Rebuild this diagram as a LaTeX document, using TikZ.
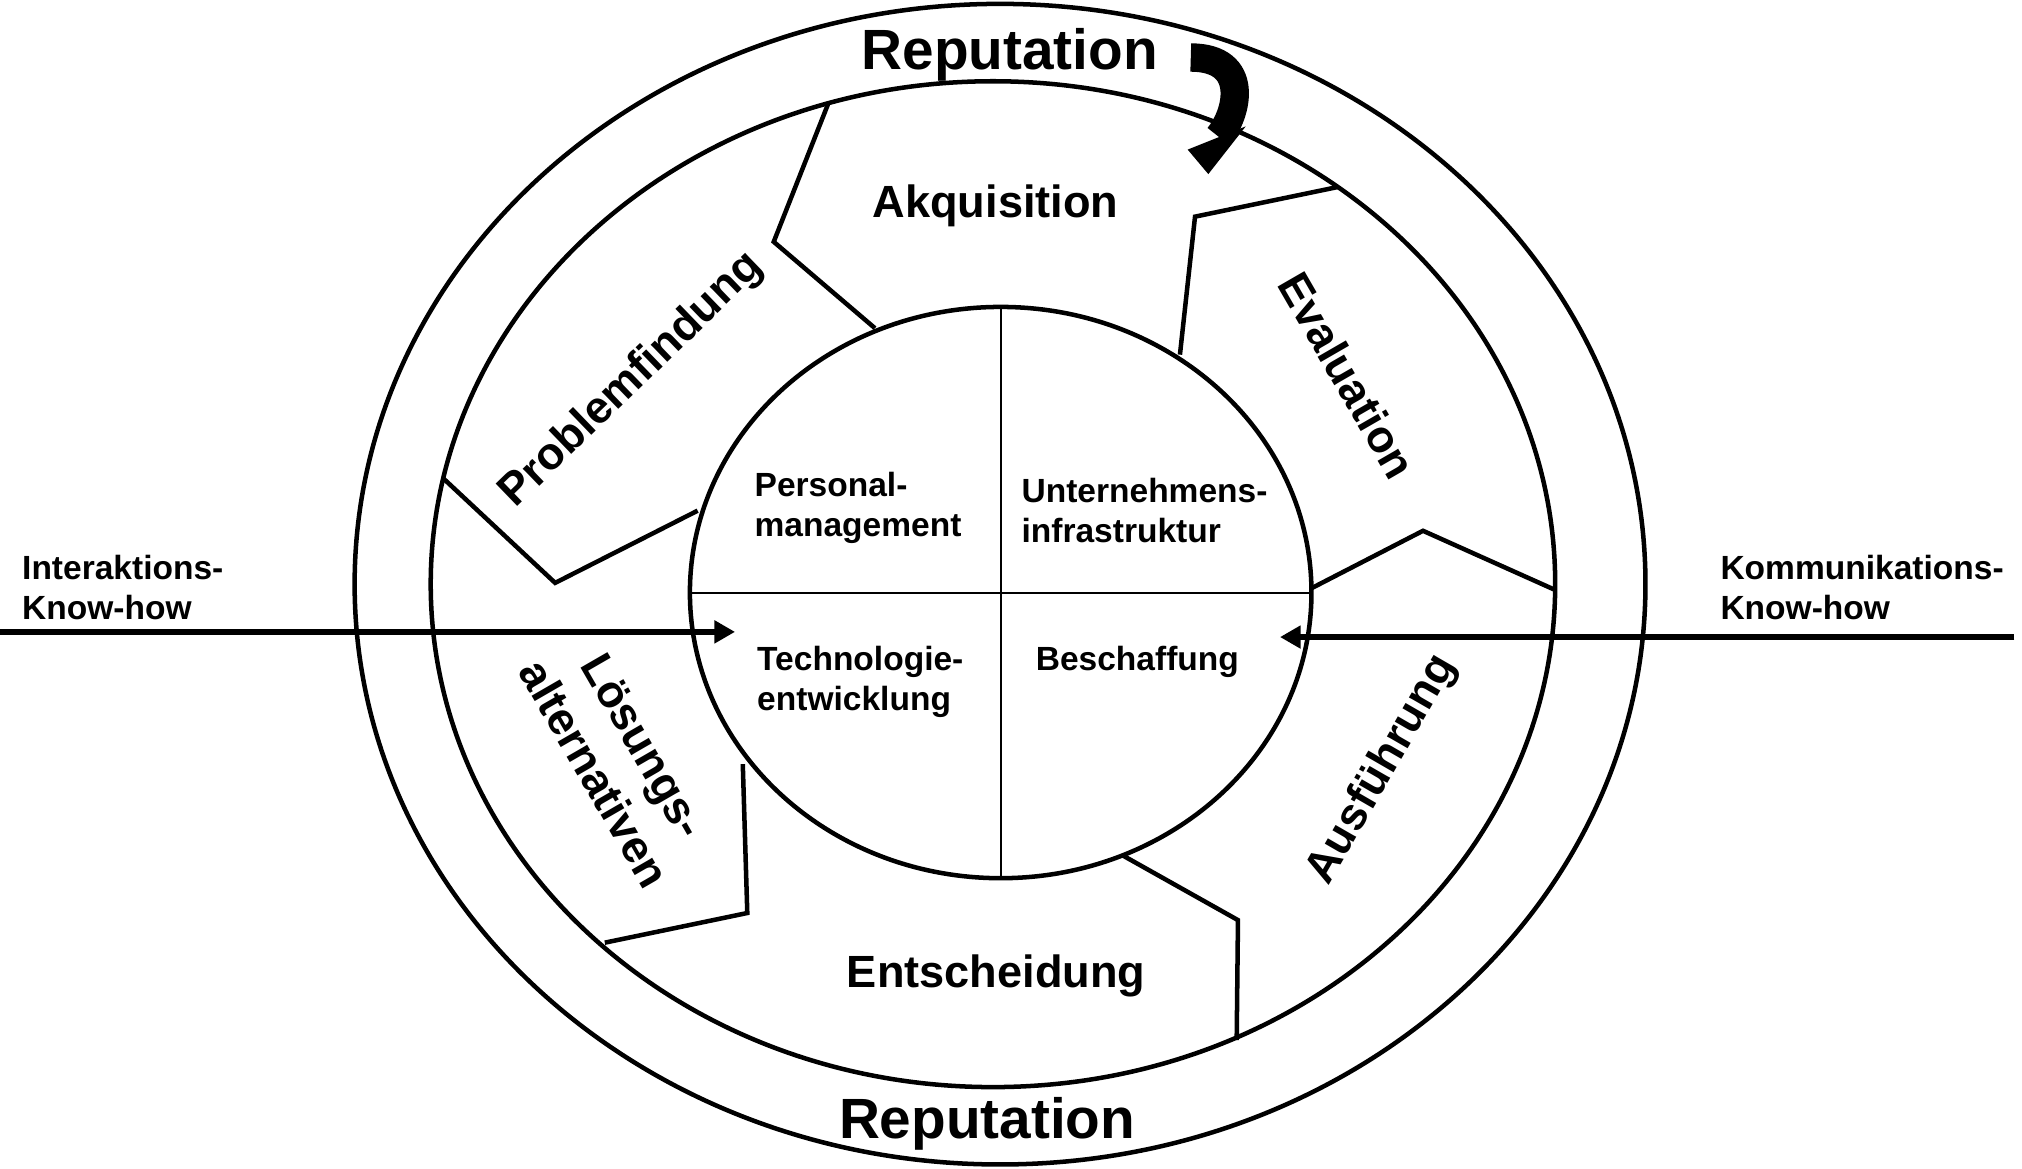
\documentclass[tikz,border=0pt]{standalone}
\usepackage{fontspec}
\setmainfont{Liberation Sans}
\usetikzlibrary{arrows.meta}
\begin{document}
\begin{tikzpicture}[x=1pt,y=-1pt,
  ring/.style={line width=3.5pt},
  sep/.style={line width=3.5pt, line join=miter},
  cross/.style={line width=1.5pt},
  flow/.style={line width=4.5pt, -{Triangle[length=16pt,width=17pt]}},
  big/.style={font=\fontsize{44}{50}\selectfont\bfseries, inner sep=0pt},
  mid/.style={font=\fontsize{35}{44}\selectfont\bfseries, inner sep=0pt},
  small/.style={font=\fontsize{26}{31}\selectfont\bfseries, inner sep=0pt, align=left},
]
\useasboundingbox (0,0) rectangle (1568,906);
% rings
\draw[ring] (775.5,453) ellipse [x radius=500.5pt, y radius=450pt];
\draw[ring] (770,453) ellipse [x radius=436pt, y radius=390pt];
\draw[ring] (776,459.5) ellipse [x radius=241pt, y radius=221.5pt];
\draw[cross] (776,238) -- (776,681);
\draw[cross] (535,459.5) -- (1017,459.5);
% segment boundaries
\draw[sep] (642,81) -- (600,187.5) -- (678.5,254.5);
\draw[sep] (1037.5,145) -- (926.7,168) -- (915,275);
\draw[sep] (1017.3,456) -- (1103.5,411.6) -- (1206,457.5);
\draw[sep] (870,663) -- (960,713.5) -- (959,806.5);
\draw[sep] (469,731) -- (579.5,708) -- (576,592.5);
\draw[sep] (343.8,371) -- (430.5,452) -- (541,396);
% texts
\node[big, anchor=base] (rtop) at (783,54) {Reputation};
\node[big, anchor=base] (rbot) at (765.5,883) {Reputation};
\node[mid, anchor=base] (akq) at (772,169) {Akquisition};
\node[mid, anchor=base] (ent) at (772.5,766) {Entscheidung};
\node[mid, rotate=44] (prob) at (490,295) {Problemfindung};
\node[mid, rotate=-60] (eval) at (1045,291) {Evaluation};
\node[mid, rotate=60] (ausf) at (1072,597) {Ausführung};
\node[mid, rotate=-60, align=center] (loes) at (480,589) {Lösungs-\\alternativen};
\node[small, anchor=west] (pers) at (585,394) {Personal-\\management};
\node[small, anchor=west] (unt) at (792,396) {Unternehmens-\\infrastruktur};
\node[small, anchor=west] (tech) at (587,529) {Technologie-\\entwicklung};
\node[small] (besch) at (882,513) {Beschaffung};
\node[small, anchor=west] (inter) at (17,455.5) {Interaktions-\\Know-how};
\node[small, anchor=west] (komm) at (1334,455.5) {Kommunikations-\\Know-how};
% arrows
\coordinate (inL) at (0,490);
\coordinate (tipL) at (570,490);
\coordinate (inR) at (1562,494);
\coordinate (tipR) at (992.6,494);
\draw[flow] (inL) -- (tipL);
\draw[flow] (inR) -- (tipR);
% curved arrow
\coordinate (ctail) at (923.4,44.6);
\coordinate (cend) at (945,106);
\draw[line width=22pt] (ctail) .. controls (970,44.6) and (960,88) .. (cend);
\fill (921,116) -- (966,98) -- (937,135) -- cycle;
\end{tikzpicture}
\end{document}
